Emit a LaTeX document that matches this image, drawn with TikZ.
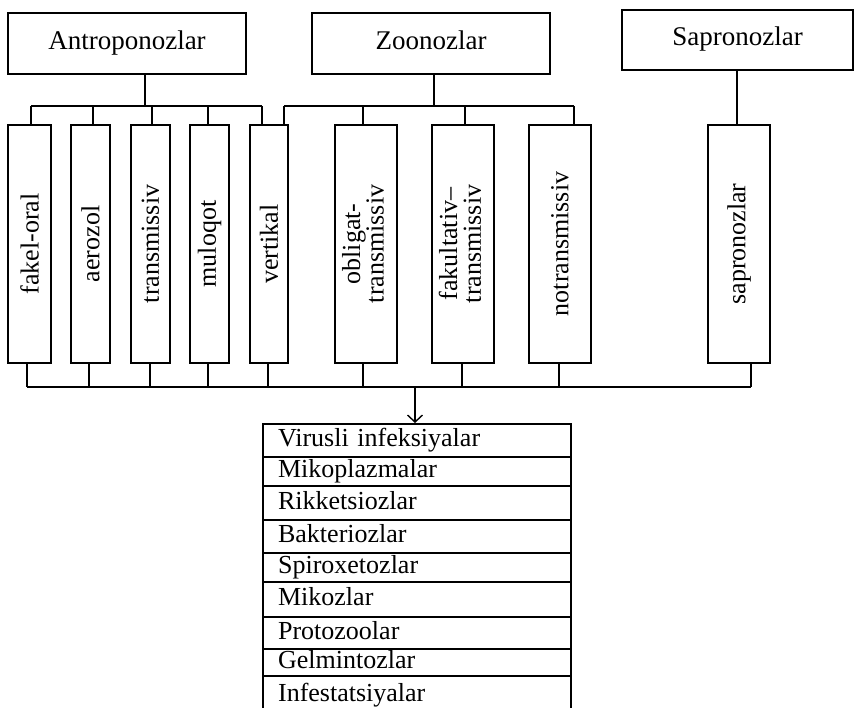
\documentclass[tikz,border=0pt]{standalone}
\usepackage{fontspec}
\setmainfont{Liberation Serif}
\usetikzlibrary{arrows.meta}
\begin{document}
\begin{tikzpicture}[x=1pt,y=-1pt,
  box/.style={draw, line width=2.2pt, inner sep=0pt, font=\fontsize{26}{21}\selectfont},
  topbox/.style={box, minimum height=61pt, font=\fontsize{27}{22}\selectfont,
    text height=18pt, text depth=6pt},
  vbox/.style={box, minimum height=238pt},
  rowbox/.style={draw, line width=2.2pt, anchor=north west, minimum width=308pt,
    inner xsep=15pt, inner ysep=0pt, text width=278pt, align=left,
    text height=18pt, text depth=6pt, font=\fontsize{26}{22}\selectfont},
  conn/.style={line width=2.2pt},
  arr/.style={line width=1.6pt, -{Straight Barb[length=7pt,width=15pt,line width=1.4pt]}}]
\useasboundingbox (0,0) rectangle (855,708);
\clip (0,0) rectangle (855,708);

% top boxes
\node[topbox, minimum width=238pt] (A) at (127,43.5) {Antroponozlar};
\node[topbox, minimum width=238pt] (Z) at (431,43.5) {Zoonozlar};
\node[topbox, minimum width=231pt, minimum height=60pt] (S) at (737.5,40) {Sapronozlar};

% vertical boxes
\node[vbox, minimum width=43pt] (v1) at (29.5,244) {\rotatebox{90}{fakel-oral}};
\node[vbox, minimum width=39pt] (v2) at (90.5,244) {\rotatebox{90}{aerozol}};
\node[vbox, minimum width=39pt] (v3) at (150.5,244) {\rotatebox{90}{transmissiv}};
\node[vbox, minimum width=39pt] (v4) at (209.5,244) {\rotatebox{90}{muloqot}};
\node[vbox, minimum width=38pt] (v5) at (269,244) {\rotatebox{90}{vertikal}};
\node[vbox, minimum width=62pt] (v6) at (366,244) {\rotatebox{90}{\begin{tabular}{@{}c@{}}obligat-\\transmissiv\end{tabular}}};
\node[vbox, minimum width=62pt] (v7) at (463,244) {\rotatebox{90}{\begin{tabular}{@{}c@{}}fakultativ–\\transmissiv\end{tabular}}};
\node[vbox, minimum width=62pt] (v8) at (560,244) {\rotatebox{90}{notransmissiv}};
\node[vbox, minimum width=62pt] (v9) at (739,244) {\rotatebox{90}{sapronozlar}};

% list rows
\node[rowbox, minimum height=33pt] (r1) at (262,423) {Virusli infeksiyalar};
\node[rowbox, minimum height=29pt] (r2) at (262,456) {Mikoplazmalar};
\node[rowbox, minimum height=34pt] (r3) at (262,485) {Rikketsiozlar};
\node[rowbox, minimum height=33pt] (r4) at (262,519) {Bakteriozlar};
\node[rowbox, minimum height=29pt] (r5) at (262,552) {Spiroxetozlar};
\node[rowbox, minimum height=35pt] (r6) at (262,581) {Mikozlar};
\node[rowbox, minimum height=32pt] (r7) at (262,616) {Protozoolar};
\node[rowbox, minimum height=27pt] (r8) at (262,648) {Gelmintozlar};
\node[rowbox, minimum height=38pt] (r9) at (262,675) {Infestatsiyalar};

% junction coordinates
\coordinate (aJ) at (145,106);
\coordinate (zJ) at (434,106);
\coordinate (t1) at (31,106);
\coordinate (t2) at (93,106);
\coordinate (t3) at (152,106);
\coordinate (t4) at (208,106);
\coordinate (t5) at (262,106);
\coordinate (z1) at (284,106);
\coordinate (z2) at (363,106);
\coordinate (z3) at (465,106);
\coordinate (z4) at (574,106);
\coordinate (sJ) at (737,106);
\coordinate (b1) at (27,387);
\coordinate (b2) at (89,387);
\coordinate (b3) at (150,387);
\coordinate (b4) at (208,387);
\coordinate (b5) at (268,387);
\coordinate (b6) at (363,387);
\coordinate (b7) at (462,387);
\coordinate (b8) at (559,387);
\coordinate (b9) at (751,387);
\coordinate (aw) at (415,387);

% top connectors
\draw[conn] (aJ |- A.south) -- (aJ);
\draw[conn] (t1) -- (t5);
\draw[conn] (t1) -- (t1 |- v1.north);
\draw[conn] (t2) -- (t2 |- v2.north);
\draw[conn] (t3) -- (t3 |- v3.north);
\draw[conn] (t4) -- (t4 |- v4.north);
\draw[conn] (t5) -- (t5 |- v5.north);
\draw[conn] (zJ |- Z.south) -- (zJ);
\draw[conn] (z1) -- (z4);
\draw[conn] (z1) -- (z1 |- v5.north);
\draw[conn] (z2) -- (z2 |- v6.north);
\draw[conn] (z3) -- (z3 |- v7.north);
\draw[conn] (z4) -- (z4 |- v8.north);
\draw[conn] (sJ |- S.south) -- (sJ |- v9.north);

% bottom connectors
\draw[conn] (b1) -- (b9);
\draw[conn] (b1 |- v1.south) -- (b1);
\draw[conn] (b2 |- v2.south) -- (b2);
\draw[conn] (b3 |- v3.south) -- (b3);
\draw[conn] (b4 |- v4.south) -- (b4);
\draw[conn] (b5 |- v5.south) -- (b5);
\draw[conn] (b6 |- v6.south) -- (b6);
\draw[conn] (b7 |- v7.south) -- (b7);
\draw[conn] (b8 |- v8.south) -- (b8);
\draw[conn] (b9 |- v9.south) -- (b9);
\draw[arr] (aw) -- (aw |- r1.north);
\end{tikzpicture}
\end{document}
